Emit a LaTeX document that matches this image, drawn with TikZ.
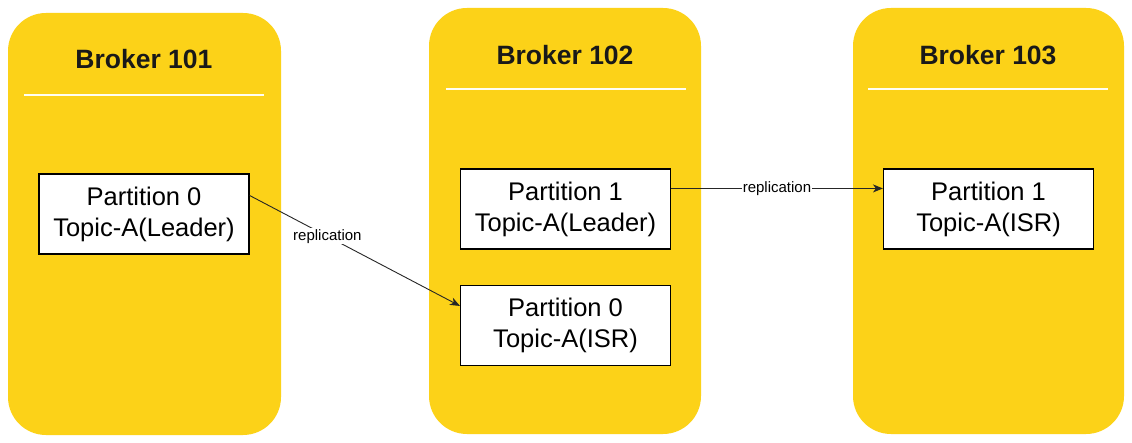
\documentclass[tikz,border=0pt]{standalone}
\usepackage{fontspec}
\setmainfont{Liberation Sans}
\usetikzlibrary{arrows.meta}
\definecolor{brokery}{RGB}{252,210,24}
\begin{document}
\begin{tikzpicture}[x=1pt,y=-1pt,
  broker/.style={fill=brokery,draw=none,rounded corners=38pt,inner sep=0pt},
  title/.style={font=\fontsize{26.5}{30}\selectfont\bfseries,text=black!90},
  sep/.style={draw=white!95!yellow,line width=2pt},
  part/.style={draw=black,line width=1.1pt,fill=white,align=center,inner sep=0pt,
    minimum width=210pt,minimum height=80pt,font=\fontsize{25.5}{31}\selectfont},
  repl/.style={-{Stealth[length=10pt,width=8pt,inset=3pt]},line width=0.9pt,draw=black!85},
  lab/.style={fill=white,inner sep=1pt,font=\fontsize{15}{17}\selectfont}]
\useasboundingbox[fill=white] (0,0) rectangle (1132,443);
% brokers
\node[broker,minimum width=273pt,minimum height=422pt] (b1) at (144.5,224) {};
\node[broker,minimum width=272pt,minimum height=426pt] (b2) at (565,221) {};
\node[broker,minimum width=271pt,minimum height=426pt] (b3) at (988.5,221) {};
% titles
\node[title] (t1) at (144,59) {Broker 101};
\node[title] (t2) at (565,55) {Broker 102};
\node[title] (t3) at (988,55) {Broker 103};
% separators
\draw[sep] (24,95) -- (264,95);
\draw[sep] (446,89) -- (686,89);
\draw[sep] (868,89) -- (1108,89);
% partitions
\node[part] (p0L) at (144,214) {Partition 0\\Topic-A(Leader)};
\node[part] (p1L) at (565.5,209) {Partition 1\\Topic-A(Leader)};
\node[part] (p0I) at (565.5,325.5) {Partition 0\\Topic-A(ISR)};
\node[part] (p1I) at (988.5,209) {Partition 1\\Topic-A(ISR)};
% replication
\draw[repl] ([yshift=-22pt]p0L.north east) -- node[lab,pos=0.37] (r1) {replication} ([yshift=-21pt]p0I.north west);
\draw[repl] ([yshift=-20pt]p1L.north east) -- node[lab,pos=0.5] (r2) {replication} ([yshift=-20pt]p1I.north west);
\end{tikzpicture}
\end{document}
